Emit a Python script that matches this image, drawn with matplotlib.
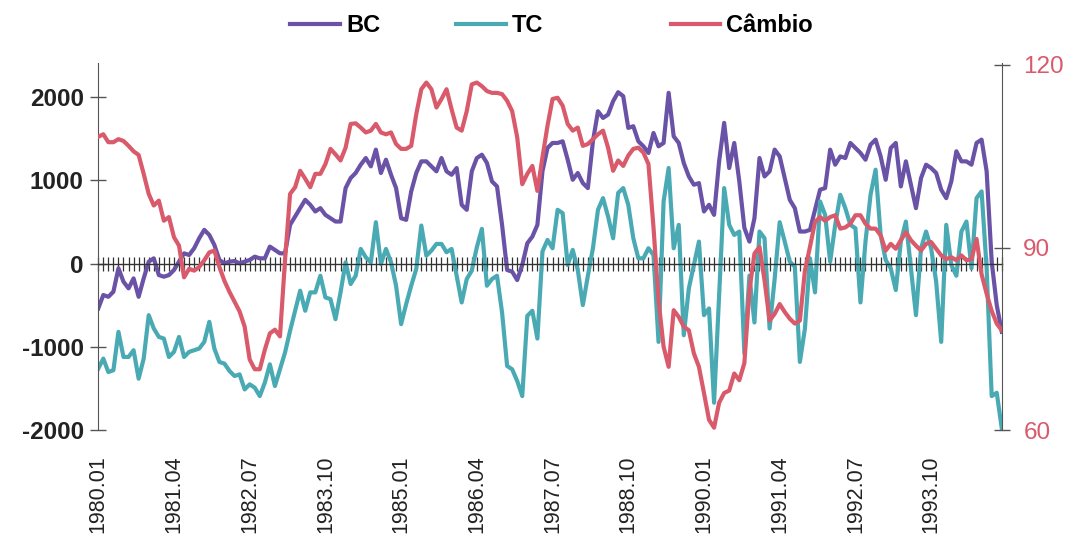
import numpy as np
import matplotlib.pyplot as plt
from matplotlib.lines import Line2D

plt.rcParams['font.family'] = ['Liberation Sans', 'DejaVu Sans']
plt.rcParams['axes.unicode_minus'] = False

# monthly series, 1980.01 .. 1994.12
bc = [-538, -377, -398, -337, -56, -217, -297, -177, -398, -177, 24, 64, -137, -157, -137, -76, 24, 124, 104, 185, 305, 406, 345, 225, 44, 4,
      24, 32, 4, 24, 44, 84, 64, 64, 205, 165, 124, 124, 466, 566, 667, 767, 707, 627, 667, 586, 546, 506, 506, 908, 1028, 1090,
      1189, 1269, 1169, 1370, 1089, 1249, 1068, 908, 546, 526, 868, 1089, 1229, 1229, 1169, 1109, 1269, 1109, 1068, 1149, 707, 647, 1109, 1269, 1309, 1210,
      988, 928, 466, -76, -96, -197, -16, 245, 325, 466, 1109, 1390, 1450, 1450, 1470, 1249, 1008, 1089, 968, 908, 1470, 1831, 1751, 1791, 1952, 2060,
      2012, 1631, 1651, 1470, 1410, 1330, 1570, 1410, 1450, 2052, 1530, 1450, 1209, 1048, 948, 968, 627, 707, 586, 1229, 1691, 1149, 1450, 988, 430,
      265, 546, 1269, 1048, 1109, 1370, 1289, 1028, 767, 667, 386, 386, 406, 647, 888, 908, 1370, 1189, 1289, 1269, 1450, 1390, 1330, 1249, 1430,
      1490, 1289, 1008, 1390, 1450, 928, 1229, 948, 667, 1028, 1189, 1149, 1089, 888, 787, 988, 1350, 1229, 1229, 1189, 1450, 1490, 1109, 24, -498, -819]

tc = [-1261, -1141, -1302, -1281, -819, -1121, -1121, -1040, -1382, -1141, -619, -779, -880, -900, -1121, -1060, -880, -1121, -1060, -1040, -1020, -940, -699, -1020, -1181, -1201,
      -1289, -1350, -1330, -1511, -1450, -1490, -1591, -1430, -1209, -1470, -1269, -1068, -807, -566, -325, -566, -345, -345, -145, -406, -426, -667, -345, 16, -245, -145,
      177, 76, 16, 498, -4, 177, 16, -265, -727, -486, -265, -64, 458, 96, 157, 237, 237, 137, 177, -145, -466, -185, -84, 197, 418, -265,
      -185, -145, -587, -1229, -1269, -1410, -1591, -627, -566, -900, 145, 285, 185, 647, 607, -16, 165, -76, -498, -145, 185, 647, 787, 566, 305, 850,
      908, 707, 305, 64, 64, 185, 104, -940, 747, 1149, 185, 466, -860, -297, -16, 265, -619, -538, -1671, -386, 908, 466, 345, 386, -1080,
      -145, -707, 386, 305, -779, -185, 498, 265, 24, -36, -1181, -779, 64, -345, 747, 587, 24, 466, 828, 667, 466, 426, -466, 265, 828,
      1129, 345, 44, -56, -317, 265, 506, -56, -619, 185, 386, 185, -217, -940, 466, -16, -145, 386, 506, -56, 787, 868, -56, -1591, -1551, -1980]

cambio = [108.2, 108.6, 107.3, 107.3, 107.8, 107.5, 106.7, 105.8, 105.2, 102.1, 98.8, 96.9, 97.7, 94.4, 95.0, 91.7, 90.3, 85.1, 86.5, 86.2, 86.8, 87.9, 89.2, 89.5, 86.8, 84.5,
          82.7, 81.1, 79.5, 77.0, 71.6, 70.0, 70.0, 73.2, 75.9, 76.5, 75.4, 87.9, 98.8, 99.9, 102.6, 101.3, 99.9, 102.1, 102.1, 103.7, 106.2, 105.3, 104.3, 106.4, 110.3, 110.4,
          109.7, 108.9, 109.2, 110.3, 108.9, 108.6, 108.9, 107.0, 106.2, 106.2, 106.7, 111.9, 116.0, 117.1, 116.0, 113.0, 114.4, 116.0, 112.7, 109.7, 109.2, 112.4, 116.8, 117.1, 116.5, 115.7,
          115.4, 115.4, 115.2, 114.1, 112.4, 108.1, 100.4, 102.1, 103.4, 99.3, 104.8, 110.0, 114.4, 114.6, 113.3, 110.3, 109.2, 109.7, 106.7, 107.0, 107.8, 108.6, 109.2, 106.4, 102.6, 104.3,
          103.4, 105.1, 106.2, 106.4, 105.6, 103.7, 93.3, 81.3, 73.7, 70.4, 79.7, 78.6, 77.0, 76.4, 72.6, 70.4, 66.1, 61.7, 60.4, 64.5, 66.1, 66.5, 69.3, 68.2, 71.0,
          82.9, 89.0, 90.1, 84.6, 78.0, 79.1, 80.7, 79.4, 78.3, 77.5, 78.0, 86.2, 90.1, 94.2, 95.0, 94.4, 95.0, 95.3, 93.1, 93.3, 93.9, 95.3, 95.3, 93.9, 93.1,
          93.1, 92.0, 89.5, 90.6, 89.8, 91.2, 92.5, 91.2, 90.3, 89.5, 90.6, 90.9, 89.8, 88.7, 88.1, 88.4, 87.9, 88.7, 87.9, 88.1, 91.4, 85.6, 82.4, 79.6, 77.5, 76.4]

tick_labels = ['1980.01', '1981.04', '1982.07', '1983.10', '1985.01', '1986.04',
               '1987.07', '1988.10', '1990.01', '1991.04', '1992.07', '1993.10']
left_ticks = [-2000, -1000, 0, 1000, 2000]
right_ticks = [60, 90, 120]

c_bc = '#6a52a6'
c_tc = '#4aaab4'
c_cam = '#d95a6b'
c_axis = '#555555'
lw = 3.0

months = np.arange(len(bc))

fig = plt.figure(figsize=(10.68, 5.39), dpi=100)
ax = fig.add_axes([0.092, 0.202, 0.846, 0.681])
ax2 = ax.twinx()

ax.plot(months, bc, color=c_bc, lw=lw, solid_joinstyle='round')
ax.plot(months, tc, color=c_tc, lw=lw, solid_joinstyle='round')
ax2.plot(months, cambio, color=c_cam, lw=lw, solid_joinstyle='round')

ax.set_xlim(0, len(bc) - 1)
ax.set_ylim(-2000, 2410)
ax2.set_ylim(60, 120.3)

# zero line carries a tick for every month
ax.spines['bottom'].set_position(('data', 0))
ax.spines['bottom'].set_color('#333333')
ax.spines['bottom'].set_linewidth(1.0)
ax.set_xticks(months)
ax.tick_params(axis='x', direction='inout', length=10, width=0.9, color='#333333', labelbottom=False)

for s in ['top', 'right']:
    ax.spines[s].set_visible(False)
for s in ['top', 'bottom', 'left']:
    ax2.spines[s].set_visible(False)
ax.spines['left'].set_color(c_axis)
ax2.spines['right'].set_color(c_axis)

ax.set_yticks(left_ticks)
ax.tick_params(axis='y', direction='inout', length=11, width=1, color=c_axis,
               labelsize=17.5, labelcolor='#222222', pad=5)
for t in ax.get_yticklabels():
    t.set_fontweight('bold')

ax2.set_yticks(right_ticks)
ax2.tick_params(axis='y', direction='inout', length=11, width=1, color=c_axis,
                labelsize=17.5, labelcolor=c_cam, pad=10)

# date labels sit under the plot area
sec = ax.secondary_xaxis(0.0)
sec.set_xticks(months[::15], labels=tick_labels)
sec.tick_params(axis='x', length=0, pad=18, labelsize=15.5, labelrotation=90, labelcolor='#222222')
sec.spines['bottom'].set_visible(False)

handles = [Line2D([], [], color=c, lw=lw) for c in (c_bc, c_tc, c_cam)]
names = ['BC', 'TC', 'Câmbio']
xs = [0.272, 0.427, 0.628]
for h, n, x in zip(handles, names, xs):
    fig.legend([h], [n], loc='center left', bbox_to_anchor=(x, 0.953), frameon=False,
               borderpad=0, borderaxespad=0, handlelength=2.1, handletextpad=0.25,
               prop={'weight': 'bold', 'size': 17})

plt.savefig('out.png', dpi=100)
plt.close()
